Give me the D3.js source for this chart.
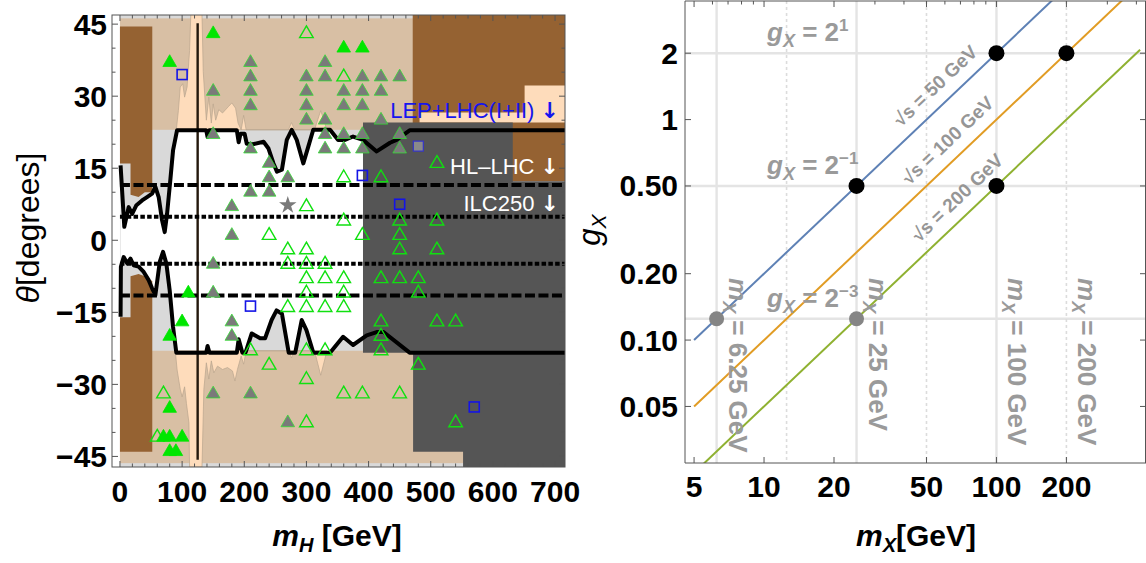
<!DOCTYPE html>
<html>
<head>
<meta charset="utf-8">
<script src="https://cdn.jsdelivr.net/npm/d3@7"></script>
<style>
body { margin: 0; background: #fff; }
text { font-family: "Liberation Sans", Arial, sans-serif; }
</style>
</head>
<body>
<svg id="chart" width="1146" height="563"></svg>
<script>
// ---------- left panel data: theta vs m_H ----------
const massTicksH = [0, 100, 200, 300, 400, 500, 600, 700];
const thetaTicks = [45, 30, 15, 0, -15, -30, -45];
const dashedTheta = [11.5, -11.5];
const dottedTheta = [4.9, -4.9];
const higgsMass = 125;

const upperContour = [[1,15.6],[7,2.8],[14,6.9],[19.6,5.5],[26.5,7.3],[35.6,8.3],[43.6,9],[51.7,9.7],[57,11.1],[62.3,9],[67.7,4.2],[72,1.7],[75.8,5.5],[81,12.5],[85.4,18.7],[91.8,22.9],[138.8,22.9],[141,21.5],[144,22.9],[188,22.9],[191,20.4],[194,22.2],[200.5,22.2],[204,20.1],[214,20],[231,20.5],[239,19.1],[247,16],[252.6,14.3],[260.6,14.7],[268.4,20.9],[276.4,23],[284.4,20.9],[295,16],[303,19.5],[311,23],[338,23],[351,20.9],[362,20.9],[375,21.6],[391,20.9],[413,18.5],[434.5,20.3],[445,20.9],[466,22.9],[716,22.9]];
const lowerContour = [[1,-15.9],[1.5,-5.5],[6,-3.5],[11.6,-4.8],[16.9,-3.8],[22,-5.2],[30,-5.5],[38.2,-6.6],[46.2,-8.3],[51.7,-10],[57,-11.4],[64,-4.5],[69.3,-2.4],[74.6,-4.8],[80,-10.4],[85.4,-18],[90.7,-23.4],[138.8,-23.4],[141,-22],[144,-23.4],[188,-23.4],[191,-20.6],[197,-23.4],[202,-23.4],[212,-19.4],[225.5,-20.4],[233.5,-20.4],[244,-16.6],[252,-14.6],[260.6,-15.3],[271.5,-23.4],[282,-23.4],[292.4,-16.6],[300,-18.7],[311,-23.4],[338,-23.4],[359,-20.1],[375,-21.8],[397,-19.8],[413,-19.1],[424,-19.1],[466,-23.4],[716,-23.4]];

const upperSpikes = [[90.7,23],[94,27],[97,31.9],[101,32.6],[104,29.8],[108,31.9],[112,39.5],[114,47],[132,47],[134,35.1],[139,25],[143,29.8],[147,24.4],[150,28.4],[154,25],[159,27.2],[165,26.5],[170,27.2],[175,27.9],[180,28.6],[186,27.5],[190,24.4],[195,23],[199,26],[203,23],[271,23],[276,24.5],[281,23],[313,23],[323,27],[333,23]];
const lowerSpikes = [[89,-23],[92,-27],[97,-31],[100,-32.6],[104,-30.5],[107,-34],[111,-38],[112,-47.2],[132,-47.2],[135,-31],[139,-25.5],[143,-28.9],[147,-25.1],[151,-27.6],[157,-26.2],[165,-26.9],[173,-26.5],[181,-27.2],[185,-29.3],[189,-26.9],[195,-24.1],[199,-25.8],[203,-23],[272,-23],[276,-24.5],[281,-23],[313,-23],[323,-28.1],[333,-23]];

const brownLeftUpper = [[0,44.5],[52,44.5],[52,10],[40,10],[30,9],[17,9.5],[17,16],[0,16]];
const brownLeftLower = [[0,-44],[52,-44],[52,-8.5],[40,-7.5],[30,-7],[17,-7.5],[17,-16],[0,-16]];
const brownRight = [[471,47],[716,47],[716,12.3],[471,12.3]];
const peachRight = [[482,24.5],[716,24.5],[716,32.2],[651,32.2],[651,26.6],[482,26.6]];
const darkRegion = [[391,24.5],[632,24.5],[632,12.3],[716,12.3],[716,-47.2],[552,-47.2],[552,-44],[471.6,-44],[471.6,-23.4],[391,-23.4]];

// benchmark points, rows of [theta, masses]
const greenFilled = [[43,[150]],[40,[360,390]],[37,[80]],[-11,[110]],[-17,[100]],[-20,[80]],[-35,[80]],[-41,[70,80,100]],[-44,[80,90]]];
const grayFilled = [[37,[210,330]],[34,[210,300,330,390,420,450]],[31,[150,210,300,360,390,420]],[28,[210,300,360,390]],[25,[300,330,420]],[22,[150,330,360,390,450]],[19,[210,330,360,390,450]],[16,[240]],[13,[240,270]],[10,[210,240]],[7,[180]],[1,[180]],[-5,[150]],[-11,[150]],[-17,[180]],[-20,[180]],[-32,[150,210]],[-38,[270]]];
const greenOpen = [[43,[300]],[34,[360]],[16,[510]],[13,[360,420]],[7,[300]],[4,[360,450,510]],[1,[240,390,450]],[-2,[270,300,450,510]],[-5,[270,300,330]],[-8,[300,330,360,420,450,480]],[-11,[300,360,480]],[-14,[270,300,330,360]],[-17,[420,510,540]],[-20,[420]],[-23,[210,300,330,420]],[-26,[240,480]],[-29,[300]],[-32,[70,360,390,450]],[-38,[300,540]],[-41,[60]]];
const blueSquares = [[100,34.5],[390,13.5],[450,7.5],[210,-13.7],[570,-34.7]];
const graySquares = [[480,19.6]];
const grayStars = [[270,7.3]];

// ---------- right panel data: g_X vs m_X ----------
const massTicksX = [5, 10, 20, 50, 100, 200];
const gTicks = [0.05, 0.1, 0.2, 0.5, 1, 2];
const gTickText = ['0.05', '0.10', '0.20', '0.50', '1', '2'];
const sqrtS = [50, 100, 200];
const lineColors = ['#5e81b5', '#e19c24', '#8fb131'];
const massRange = [5, 415];
const sqrtSLabelMass = [62, 70, 77];
const gridCoupling = [2, 0.5, 0.125];
const couplingExp = ['1', '\u22121', '\u22123'];
const gridMassSolid = [6.25, 25, 100];
const gridMassDotted = [12.5, 50, 200];
const massLabels = ['6.25', '25', '100', '200'];
const massLabelPos = [6.25, 25, 100, 200];
const blackDots = [[25,0.5],[100,2],[200,2],[100,0.5]];
const grayDots = [[6.25,0.125],[25,0.125]];

const flatRows = rows => rows.flatMap(([t, ms]) => ms.map(m => [m, t]));
const minus = v => v < 0 ? '\u2212' + Math.abs(v) : String(v);

const svg = d3.select('#chart');
svg.append('rect').attr('width', 1146).attr('height', 563).attr('fill', '#fff');

// ================= left panel =================
const xL = d3.scaleLinear().domain([-12.8, 716]).range([112, 565]);
const yL = d3.scaleLinear().domain([-47.2, 46.9]).range([467, 15]);

svg.append('clipPath').attr('id', 'clipL').append('rect')
    .attr('x', 112).attr('y', 15).attr('width', 453).attr('height', 452);
const plotL = svg.append('g').attr('clip-path', 'url(#clipL)');

const polyL = pts => 'M' + pts.map(p => `${xL(p[0])},${yL(p[1])}`).join('L') + 'Z';
const rectL = (m0, m1, t0, t1, fill) => plotL.append('rect')
    .attr('x', xL(m0)).attr('y', yL(t1))
    .attr('width', xL(m1) - xL(m0)).attr('height', yL(t0) - yL(t1))
    .attr('fill', fill);

rectL(0, 716, -47.2, 46.9, '#d9d9d9');
rectL(0, 716, 23, 46.2, '#d8bfa4');
rectL(0, 716, -46.4, -23, '#d8bfa4');

plotL.append('path')
    .attr('d', polyL(upperContour.concat(lowerContour.slice().reverse())))
    .attr('fill', '#fff');

[brownLeftUpper, brownLeftLower, brownRight].forEach(p =>
    plotL.append('path').attr('d', polyL(p)).attr('fill', '#956232'));

[upperSpikes, lowerSpikes].forEach(p =>
    plotL.append('path').attr('d', polyL(p))
        .attr('fill', '#fedcbb').attr('stroke', '#b9a58e').attr('stroke-width', 0.7));

plotL.append('path').attr('d', polyL(peachRight)).attr('fill', '#fedcbb');
plotL.append('path').attr('d', polyL(darkRegion)).attr('fill', '#555555');

plotL.append('line')
    .attr('x1', xL(higgsMass)).attr('x2', xL(higgsMass))
    .attr('y1', yL(45.2)).attr('y2', yL(-45.7))
    .attr('stroke', '#24180c').attr('stroke-width', 2.4);

const lineL = d3.line().x(d => xL(d[0])).y(d => yL(d[1]));
[upperContour, lowerContour].forEach(c =>
    plotL.append('path').attr('d', lineL(c))
        .attr('fill', 'none').attr('stroke', '#000')
        .attr('stroke-width', 4).attr('stroke-linejoin', 'round'));

dashedTheta.forEach(t => plotL.append('line')
    .attr('x1', xL(0)).attr('x2', xL(716)).attr('y1', yL(t)).attr('y2', yL(t))
    .attr('stroke', '#000').attr('stroke-width', 4).attr('stroke-dasharray', '10,3.5'));
dottedTheta.forEach(t => plotL.append('line')
    .attr('x1', xL(0)).attr('x2', xL(716)).attr('y1', yL(t)).attr('y2', yL(t))
    .attr('stroke', '#000').attr('stroke-width', 4).attr('stroke-dasharray', '4.5,2.3'));

// markers
const tri = d3.symbol().type(d3.symbolTriangle).size(80);
const star = d3.symbol().type(d3.symbolStar).size(95);
plotL.selectAll('.gt').data(flatRows(grayFilled)).enter().append('path')
    .attr('transform', d => `translate(${xL(d[0])},${yL(d[1])})`)
    .attr('d', tri).attr('fill', '#7a7a7a').attr('stroke', '#33dd33').attr('stroke-width', 0.8);
plotL.selectAll('.ot').data(flatRows(greenOpen)).enter().append('path')
    .attr('transform', d => `translate(${xL(d[0])},${yL(d[1])})`)
    .attr('d', tri).attr('fill', 'none').attr('stroke', '#10e010').attr('stroke-width', 1.4);
plotL.selectAll('.ft').data(flatRows(greenFilled)).enter().append('path')
    .attr('transform', d => `translate(${xL(d[0])},${yL(d[1])})`)
    .attr('d', tri).attr('fill', '#00e600').attr('stroke', '#00e600').attr('stroke-width', 0.8);
plotL.selectAll('.st').data(grayStars).enter().append('path')
    .attr('transform', d => `translate(${xL(d[0])},${yL(d[1])})`)
    .attr('d', star).attr('fill', '#7a7a7a');
plotL.selectAll('.bs').data(blueSquares).enter().append('rect')
    .attr('x', d => xL(d[0]) - 5).attr('y', d => yL(d[1]) - 5)
    .attr('width', 10).attr('height', 10)
    .attr('fill', 'none').attr('stroke', '#1414e6').attr('stroke-width', 1.6);
plotL.selectAll('.gs').data(graySquares).enter().append('rect')
    .attr('x', d => xL(d[0]) - 5).attr('y', d => yL(d[1]) - 5)
    .attr('width', 10).attr('height', 10)
    .attr('fill', '#8a8a8a').attr('stroke', '#3434c8').attr('stroke-width', 1.2);

// region labels
const regionLabel = (txt, y, color) => {
    const t = svg.append('text')
        .attr('x', 559).attr('y', y).attr('text-anchor', 'end')
        .attr('font-size', 22).attr('fill', color);
    t.append('tspan').text(txt + ' ');
    t.append('tspan').attr('font-family', 'DejaVu Sans').attr('font-weight', 'bold').text('\u2193');
};
regionLabel('LEP+LHC(I+II)', 118, '#1515ee');
regionLabel('HL\u2013LHC', 174, '#fff');
regionLabel('ILC250', 211, '#fff');

// frame and ticks
const axL = svg.append('g').attr('stroke', '#555').attr('stroke-width', 1);
axL.append('rect').attr('x', 112).attr('y', 15).attr('width', 453).attr('height', 452).attr('fill', 'none');
d3.range(0, 701, 20).forEach(m => {
    const len = m % 100 === 0 ? 6 : 3.5;
    axL.append('line').attr('x1', xL(m)).attr('x2', xL(m)).attr('y1', 467).attr('y2', 467 - len);
    axL.append('line').attr('x1', xL(m)).attr('x2', xL(m)).attr('y1', 15).attr('y2', 15 + len);
});
d3.range(-45, 46, 5).forEach(t => {
    const len = t % 15 === 0 ? 6 : 3.5;
    axL.append('line').attr('x1', 112).attr('x2', 112 + len).attr('y1', yL(t)).attr('y2', yL(t));
    axL.append('line').attr('x1', 565).attr('x2', 565 - len).attr('y1', yL(t)).attr('y2', yL(t));
});

svg.selectAll('.xlL').data(massTicksH).enter().append('text')
    .attr('x', d => xL(d)).attr('y', 502).attr('text-anchor', 'middle')
    .attr('font-size', 30).attr('font-weight', 'bold').text(d => d);
svg.selectAll('.ylL').data(thetaTicks).enter().append('text')
    .attr('x', 107).attr('y', d => yL(d) + 10.5).attr('text-anchor', 'end')
    .attr('font-size', 30).attr('font-weight', 'bold').text(minus);

const tH = svg.append('text').attr('x', 337).attr('y', 546).attr('text-anchor', 'middle')
    .attr('font-size', 30).attr('font-weight', 'bold');
tH.append('tspan').attr('font-style', 'italic').text('m');
tH.append('tspan').attr('font-style', 'italic').attr('font-size', 20).attr('dy', 6).text('H');
tH.append('tspan').attr('dy', -6).text(' [GeV]');

const tT = svg.append('text').attr('transform', 'translate(39,228) rotate(-90)')
    .attr('text-anchor', 'middle').attr('font-size', 32);
tT.append('tspan').attr('font-style', 'italic').text('\u03b8');
tT.append('tspan').text('[degrees]');

// ================= right panel =================
const xR = d3.scaleLog().domain([4.57, 440]).range([685, 1146]);
const yR = d3.scaleLog().domain([0.0277, 3.45]).range([463, 1]);

svg.append('clipPath').attr('id', 'clipR').append('rect')
    .attr('x', 685).attr('y', 1).attr('width', 461).attr('height', 462);
const plotR = svg.append('g').attr('clip-path', 'url(#clipR)');

gridCoupling.forEach(g => plotR.append('line')
    .attr('x1', 685).attr('x2', 1146).attr('y1', yR(g)).attr('y2', yR(g))
    .attr('stroke', '#e4e4e4').attr('stroke-width', 2.4));
gridMassSolid.forEach(m => plotR.append('line')
    .attr('x1', xR(m)).attr('x2', xR(m)).attr('y1', 1).attr('y2', 463)
    .attr('stroke', '#e4e4e4').attr('stroke-width', 2.4));
gridMassDotted.forEach(m => plotR.append('line')
    .attr('x1', xR(m)).attr('x2', xR(m)).attr('y1', 1).attr('y2', 463)
    .attr('stroke', '#dcdcdc').attr('stroke-width', 1.6).attr('stroke-dasharray', '3,3'));

const lineR = d3.line().x(d => xR(d[0])).y(d => yR(d[1]));
sqrtS.forEach((s, i) => plotR.append('path')
    .attr('d', lineR(massRange.map(m => [m, m / s])))
    .attr('fill', 'none').attr('stroke', lineColors[i]).attr('stroke-width', 2));

// on-screen slope of the lines (rising to the right)
const ang = -Math.atan2(yR(1) - yR(10), xR(100) - xR(10)) * 180 / Math.PI;
sqrtS.forEach((s, i) => {
    const m = sqrtSLabelMass[i];
    plotR.append('text')
        .attr('transform', `translate(${xR(m)},${yR(m / s)}) rotate(${ang})`)
        .attr('y', -12).attr('text-anchor', 'middle')
        .attr('font-size', 19).attr('font-weight', 'bold').attr('fill', '#969696')
        .text(`\u221as = ${s} GeV`);
});

gridCoupling.forEach((g, i) => {
    const t = plotR.append('text').attr('x', xR(10.3)).attr('y', yR(g) - 12)
        .attr('font-size', 26).attr('font-weight', 'bold').attr('fill', '#9a9a9a');
    t.append('tspan').attr('font-style', 'italic').text('g');
    t.append('tspan').attr('font-style', 'italic').attr('font-size', 18).attr('dy', 6).text('X');
    t.append('tspan').attr('dy', -6).text(' = 2');
    t.append('tspan').attr('font-size', 17).attr('dy', -10).text(couplingExp[i]);
});

massLabelPos.forEach((m, i) => {
    const t = plotR.append('text')
        .attr('transform', `translate(${xR(m) + 12},278) rotate(90)`)
        .attr('font-size', 26).attr('font-weight', 'bold').attr('fill', '#9a9a9a');
    t.append('tspan').attr('font-style', 'italic').text('m');
    t.append('tspan').attr('font-style', 'italic').attr('font-size', 18).attr('dy', 6).text('X');
    t.append('tspan').attr('dy', -6).text(` = ${massLabels[i]} GeV`);
});

plotR.selectAll('.gd').data(grayDots).enter().append('circle')
    .attr('cx', d => xR(d[0])).attr('cy', d => yR(d[1])).attr('r', 7.5).attr('fill', '#858585');
plotR.selectAll('.bd').data(blackDots).enter().append('circle')
    .attr('cx', d => xR(d[0])).attr('cy', d => yR(d[1])).attr('r', 8).attr('fill', '#000');

// frame and ticks
const axR = svg.append('g').attr('stroke', '#555').attr('stroke-width', 1);
axR.append('line').attr('x1', 685).attr('x2', 685).attr('y1', 1).attr('y2', 463);
axR.append('line').attr('x1', 685).attr('x2', 1146).attr('y1', 463).attr('y2', 463);
axR.append('line').attr('x1', 685).attr('x2', 1146).attr('y1', 1).attr('y2', 1);
axR.append('line').attr('x1', 1145.5).attr('x2', 1145.5).attr('y1', 1).attr('y2', 463);
massTicksX.forEach(m => axR.append('line')
    .attr('x1', xR(m)).attr('x2', xR(m)).attr('y1', 463).attr('y2', 457));
xR.ticks(20).filter(m => m >= 5).forEach(m => {
    const len = massTicksX.includes(m) ? 6 : 3.5;
    axR.append('line').attr('x1', xR(m)).attr('x2', xR(m)).attr('y1', 1).attr('y2', 1 + len);
});
gTicks.forEach(g => {
    axR.append('line').attr('x1', 685).attr('x2', 691).attr('y1', yR(g)).attr('y2', yR(g));
    axR.append('line').attr('x1', 1146).attr('x2', 1140).attr('y1', yR(g)).attr('y2', yR(g));
});

svg.selectAll('.xlR').data(massTicksX).enter().append('text')
    .attr('x', d => xR(d)).attr('y', 497).attr('text-anchor', 'middle')
    .attr('font-size', 30).attr('font-weight', 'bold').text(d => d);
svg.selectAll('.ylR').data(gTicks).enter().append('text')
    .attr('x', 678).attr('y', d => yR(d) + 10.5).attr('text-anchor', 'end')
    .attr('font-size', 30).attr('font-weight', 'bold').text((d, i) => gTickText[i]);

const tX = svg.append('text').attr('x', 916).attr('y', 546).attr('text-anchor', 'middle')
    .attr('font-size', 30).attr('font-weight', 'bold');
tX.append('tspan').attr('font-style', 'italic').text('m');
tX.append('tspan').attr('font-style', 'italic').attr('font-size', 20).attr('dy', 6).text('X');
tX.append('tspan').attr('dy', -6).text('[GeV]');

const tG = svg.append('text').attr('transform', 'translate(600,230) rotate(-90)')
    .attr('text-anchor', 'middle').attr('font-size', 31).attr('font-style', 'italic');
tG.append('tspan').text('g');
tG.append('tspan').attr('font-size', 21).attr('dy', 6).text('X');
</script>
</body>
</html>
